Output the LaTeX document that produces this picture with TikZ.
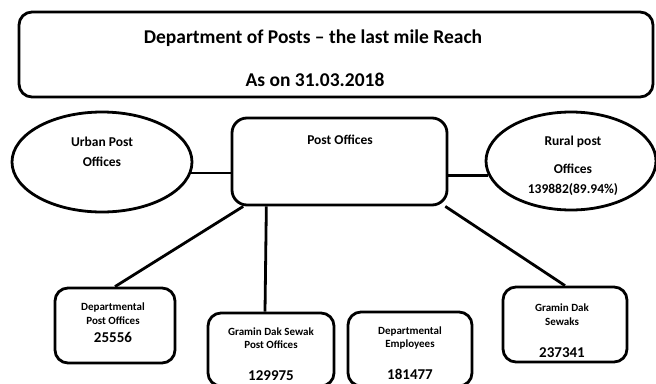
\documentclass[tikz,border=0pt]{standalone}
\usepackage{fontspec}
\setmainfont{Carlito}
\usetikzlibrary{shapes.geometric}
\tikzset{
  rbox/.style={draw, line width=2.8pt, rounded corners=13pt, inner sep=0pt},
  oval/.style={draw, ellipse, line width=2.8pt, inner sep=0pt},
  conn/.style={line width=2.8pt},
  bigtxt/.style={font=\fontsize{19.5}{23}\selectfont\bfseries, inner sep=0pt},
  midtxt/.style={font=\fontsize{13.5}{20}\selectfont\bfseries, align=center, inner sep=0pt},
  smalltxt/.style={font=\fontsize{11}{13.5}\selectfont\bfseries, align=center, inner sep=0pt},
  numtxt/.style={font=\fontsize{15}{18}\selectfont\bfseries, inner sep=0pt, text depth=0pt},
}
\begin{document}
\begin{tikzpicture}[x=1pt,y=-1pt]
    \useasboundingbox (0,0) rectangle (656,383);
    \clip (0,0) rectangle (656,383);
    % title box
    \node[rbox, minimum width=634pt, minimum height=85pt] (title) at (336,54.5) {};
    \node[bigtxt] (titleA) at (313,38) {Department of Posts -- the last mile Reach};
    \node[bigtxt] (titleB) at (315,80) {As on 31.03.2018};
    % middle row
    \node[oval, minimum width=180pt, minimum height=100pt] (urban) at (102,162) {};
    \node[midtxt] (urbantxt) at (102,152) {Urban Post\\Offices};
    \node[rbox, rounded corners=15pt, minimum width=215pt, minimum height=87pt] (po) at (339.5,161.5) {};
    \node[midtxt] (potxt) at (340,140) {Post Offices};
    \node[oval, minimum width=170pt, minimum height=98pt] (rural) at (571,161) {};
    \node[midtxt] (ruraltxt) at (573,142) {Rural post};
    \node[midtxt] (ruralnum) at (573,180) {Offices\\139882(89.94\%)};
    % bottom row
    \node[rbox, minimum width=120pt, minimum height=75pt] (deptpo) at (115,325.5) {};
    \node[smalltxt] (deptpotxt) at (113,313.5) {Departmental\\Post Offices};
    \node[numtxt] (deptponum) at (113,337) {25556};
    \node[rbox, minimum width=126pt, minimum height=73pt] (gdspo) at (271,349.5) {};
    \node[smalltxt] (gdspotxt) at (271,338) {Gramin Dak Sewak\\Post Offices};
    \node[numtxt] (gdsponum) at (271,375.5) {129975};
    \node[rbox, minimum width=124pt, minimum height=74pt] (emp) at (410,349) {};
    \node[smalltxt] (emptxt) at (410,338) {Departmental\\Employees};
    \node[numtxt] (empnum) at (410,374.5) {181477};
    \node[rbox, minimum width=124pt, minimum height=75pt] (gds) at (565,324.5) {};
    \node[smalltxt] (gdstxt) at (562,314.5) {Gramin Dak\\Sewaks};
    \node[numtxt] (gdsnum) at (562,353) {237341};
    % connectors
    \draw[conn] (urban.-7) -- (po.west |- urban.-7);
    \draw[conn] (po.east |- rural.190) -- (rural.190);
    \draw[conn] (po.205) -- (deptpo.north);
    \draw[conn] (po.south -| gdspo.97) -- ([xshift=-6pt]gdspo.north);
    \draw[conn] (po.-23) -- (gds.north);
\end{tikzpicture}
\end{document}
